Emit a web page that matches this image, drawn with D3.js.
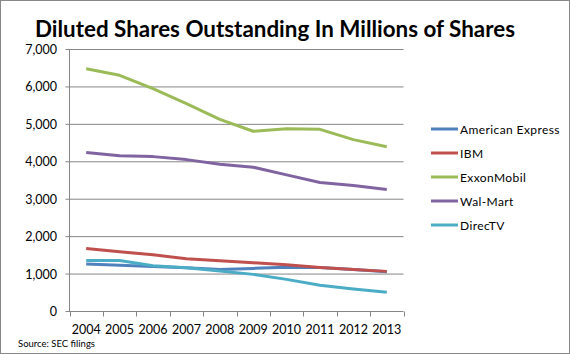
<!DOCTYPE html>
<html>
<head>
<meta charset="utf-8">
<script src="https://cdn.jsdelivr.net/npm/d3@7"></script>
<style>
  body { margin: 0; background: #fff; }
  svg { display: block; }
</style>
</head>
<body>
<div id="chart-container"></div>
<script>
// Data (millions of diluted shares)
const years = ["2004", "2005", "2006", "2007", "2008", "2009", "2010", "2011", "2012", "2013"];
const amex    = [1267, 1235, 1200, 1170, 1125, 1152, 1185, 1178, 1125, 1065];
const ibm     = [1685, 1595, 1515, 1410, 1355, 1302, 1248, 1178, 1125, 1072];
const exxon   = [6485, 6310, 5955, 5555, 5135, 4815, 4885, 4867, 4592, 4400];
const walmart = [4245, 4160, 4138, 4058, 3935, 3855, 3650, 3445, 3365, 3260];
const directv = [1365, 1365, 1222, 1168, 1080, 992, 858, 700, 600, 512];
const seriesNames = ["American Express", "IBM", "ExxonMobil", "Wal-Mart", "DirecTV"];
const seriesValues = [amex, ibm, exxon, walmart, directv];
const colors = ["#4F81BD", "#C0504D", "#9BBB59", "#8064A2", "#4BACC6"];
const yTicks = [0, 1000, 2000, 3000, 4000, 5000, 6000, 7000];

const svgWidth = 570;
const svgHeight = 354;
const margin = { left: 69.5, right: 403.5, top: 49.5, bottom: 311.5 };
const font = "Lato, 'Open Sans', sans-serif";

const svg = d3.select("#chart-container")
  .append("svg")
  .attr("width", svgWidth)
  .attr("height", svgHeight);

// outer border
svg.append("rect")
  .attr("x", 0.5).attr("y", 0.5)
  .attr("width", svgWidth - 1).attr("height", svgHeight - 1)
  .attr("fill", "#fff")
  .attr("stroke", "#888");

// scales
const xScale = d3.scaleBand()
  .domain(years)
  .range([margin.left, margin.right]);

const yScale = d3.scaleLinear()
  .domain([0, 7000])
  .range([margin.bottom, margin.top]);

// gridlines
svg.append("g")
  .selectAll("line")
  .data(yTicks)
  .join("line")
  .attr("x1", margin.left - 4)
  .attr("x2", margin.right)
  .attr("y1", d => yScale(d))
  .attr("y2", d => yScale(d))
  .attr("stroke", "#868686")
  .attr("stroke-width", 1);

// y axis line
svg.append("line")
  .attr("x1", margin.left).attr("x2", margin.left)
  .attr("y1", margin.top).attr("y2", margin.bottom)
  .attr("stroke", "#868686");

// y tick labels
svg.append("g")
  .selectAll("text")
  .data(yTicks)
  .join("text")
  .text(d => d3.format(",")(d))
  .attr("x", 57)
  .attr("y", d => yScale(d) + 4.5)
  .attr("text-anchor", "end")
  .style("font-family", font)
  .style("font-size", "12.5px")
  .style("fill", "#000");

// x tick marks (category boundaries)
const boundaries = years.map(d => xScale(d)).concat([margin.right]);
svg.append("g")
  .selectAll("line")
  .data(boundaries)
  .join("line")
  .attr("x1", d => Math.round(d) + 0.5)
  .attr("x2", d => Math.round(d) + 0.5)
  .attr("y1", margin.bottom)
  .attr("y2", margin.bottom + 5)
  .attr("stroke", "#868686");

// x tick labels
svg.append("g")
  .selectAll("text")
  .data(years)
  .join("text")
  .text(d => d)
  .attr("x", d => xScale(d) + xScale.bandwidth() / 2)
  .attr("y", 334)
  .attr("text-anchor", "middle")
  .style("font-family", font)
  .style("font-size", "12.5px")
  .style("fill", "#000");

// lines
const line = d3.line()
  .x((d, i) => xScale(years[i]) + xScale.bandwidth() / 2)
  .y(d => yScale(d));

svg.append("g")
  .selectAll("path")
  .data(seriesValues)
  .join("path")
  .attr("d", d => line(d))
  .attr("fill", "none")
  .attr("stroke", (d, i) => colors[i])
  .attr("stroke-width", 3)
  .attr("stroke-linejoin", "round");

// legend
const legend = svg.append("g")
  .selectAll("g")
  .data(seriesNames)
  .join("g")
  .attr("transform", (d, i) => `translate(0, ${129 + i * 24})`);

legend.append("line")
  .attr("x1", 431).attr("x2", 458)
  .attr("y1", 0).attr("y2", 0)
  .attr("stroke", (d, i) => colors[i])
  .attr("stroke-width", 3);

legend.append("text")
  .text(d => d)
  .attr("x", 460)
  .attr("y", 4.5)
  .style("font-family", font)
  .style("font-size", "12px")
  .style("letter-spacing", "0.4px")
  .style("fill", "#000");

// title
svg.append("text")
  .text("Diluted Shares Outstanding In Millions of Shares")
  .attr("x", 35)
  .attr("y", 37)
  .attr("textLength", 480)
  .attr("lengthAdjust", "spacingAndGlyphs")
  .style("font-family", font)
  .style("font-weight", "bold")
  .style("font-size", "23px")
  .style("fill", "#000");

// source note
svg.append("text")
  .text("Source: SEC filings")
  .attr("x", 18)
  .attr("y", 347)
  .style("font-family", font)
  .style("font-size", "9.5px")
  .style("fill", "#000");
</script>
</body>
</html>
